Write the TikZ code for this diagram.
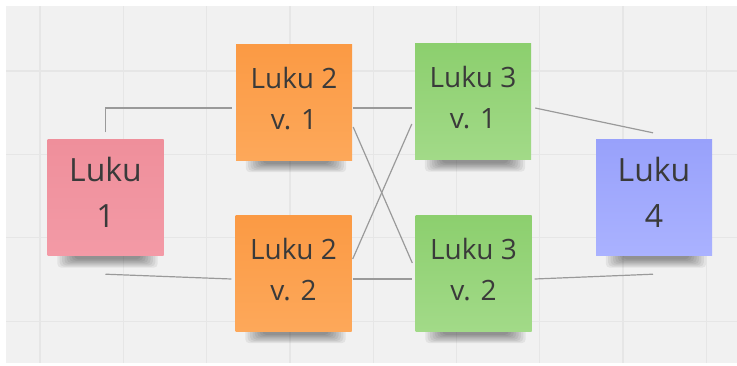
\documentclass[tikz,border=0pt]{standalone}
\usepackage{fontspec}
\setmainfont{Open Sans}
\usetikzlibrary{calc}
\definecolor{bgc}{HTML}{F1F1F1}
\definecolor{gridc}{HTML}{E6E6E6}
\definecolor{linec}{HTML}{9A9A9A}
\definecolor{txtc}{HTML}{3A3A3A}
\definecolor{pinkT}{HTML}{EF8F9B}
\definecolor{pinkB}{HTML}{F39AA6}
\definecolor{orT}{HTML}{FB9A44}
\definecolor{orB}{HTML}{FDA85A}
\definecolor{grT}{HTML}{8CCF6E}
\definecolor{grB}{HTML}{A2DA88}
\definecolor{blT}{HTML}{98A1FB}
\definecolor{blB}{HTML}{AAB2FF}
\pgfdeclarelayer{back}
\pgfdeclarelayer{shad}
\pgfsetlayers{back,shad,main}
\tikzset{
  note/.style={minimum width=116pt, minimum height=116pt, inner sep=0pt, align=center, text=txtc},
  bignote/.style={note, font=\fontsize{32}{46}\selectfont, text depth=10pt},
  smallnote/.style={note, font=\fontsize{28}{41}\selectfont, text depth=8pt},
  conn/.style={draw=linec, line width=1.2pt},
}
\newcommand\noteshadow[1]{%
  \foreach \i in {0,...,7}{%
    \fill[black, opacity=0.06, rounded corners=4pt]
      ($(#1.south west)+(10+2.4*\i,-4)$) rectangle ($(#1.south east)+(-6-2.4*\i,12-1.2*\i)$);
  }%
}
\begin{document}
\begin{tikzpicture}[x=1pt, y=-1pt]
\useasboundingbox (0,0) rectangle (737,365);
\begin{pgfonlayer}{back}
  \fill[white] (0,0) rectangle (737,365);
  \fill[bgc] (6,6) rectangle (737,363);
  \foreach \x in {40,123.3,206.6,289.9,373.2,456.5,539.8,623.1,706.4}
    \draw[gridc, line width=1.3pt] (\x,6) -- (\x,363);
  \foreach \y in {71,154.4,237.8,321.2}
    \draw[gridc, line width=1.3pt] (6,\y) -- (737,\y);
\end{pgfonlayer}

\node[bignote, top color=pinkT, bottom color=pinkB] (L1) at (105.5,197.5) {Luku\\1};
\node[smallnote, top color=orT, bottom color=orB] (L2a) at (294,102) {Luku 2\\v. 1};
\node[smallnote, top color=orT, bottom color=orB] (L2b) at (293.5,273) {Luku 2\\v. 2};
\node[smallnote, top color=grT, bottom color=grB] (L3a) at (473,101.5) {Luku 3\\v. 1};
\node[smallnote, top color=grT, bottom color=grB] (L3b) at (473.5,273) {Luku 3\\v. 2};
\node[bignote, top color=blT, bottom color=blB] (L4) at (654,197.5) {Luku\\4};

\begin{pgfonlayer}{shad}
  \noteshadow{L1}
  \noteshadow{L2a}
  \noteshadow{L2b}
  \noteshadow{L3a}
  \noteshadow{L3b}
  \noteshadow{L4}
\end{pgfonlayer}

\draw[conn] ($(L1.north)+(0,-7)$) |- ($(L2a.west)+(-4,6)$);
\draw[conn] ($(L1.south)+(0,18.5)$) -- ($(L2b.west)+(-4,6)$);
\draw[conn] ($(L2a.east)+(1,6)$) -- ($(L3a.west)+(-3,6.5)$);
\draw[conn] ($(L2a.east)+(1,25)$) -- ($(L3b.west)+(-3,-10)$);
\draw[conn] ($(L2b.east)+(1,-14)$) -- ($(L3a.west)+(-3,22.5)$);
\draw[conn] ($(L2b.east)+(1,6)$) -- ($(L3b.west)+(-3,6)$);
\draw[conn] ($(L3a.east)+(4,6.5)$) -- ($(L4.north)+(-1,-6.5)$);
\draw[conn] ($(L3b.east)+(3,6)$) -- ($(L4.south)+(-1,18.5)$);
\end{tikzpicture}
\end{document}
